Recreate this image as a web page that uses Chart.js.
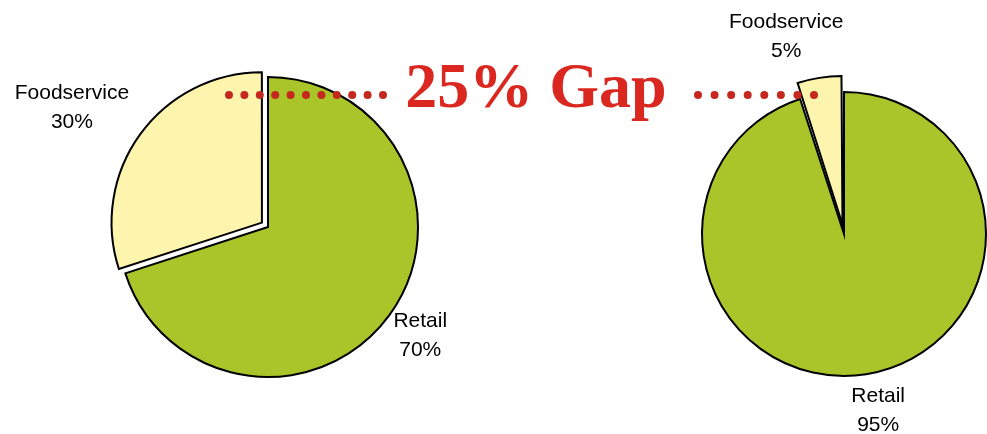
<!DOCTYPE html>
<html>
<head>
<meta charset="utf-8">
<script src="https://cdn.jsdelivr.net/npm/chart.js@4.4.0/dist/chart.umd.min.js"></script>
<style>
  body { margin: 0; background: #fff; overflow: hidden; }
  canvas { position: absolute; left: 0; top: 0; }
</style>
</head>
<body>
<canvas id="leftPie" width="987" height="434"></canvas>
<canvas id="rightPie" width="987" height="434"></canvas>
<script>
const categories = ['Retail', 'Foodservice']
const leftShares = [70, 30]
const rightShares = [95, 5]
const gapText = (leftShares[1] - rightShares[1]) + '% Gap'

const green = '#a9c52a'
const yellow = '#fdf4ae'
const red = '#da2820'
const dotRed = '#c4281f'

// draws "Retail / 70%" style labels out from each slice
const sliceLabels = {
  id: 'sliceLabels',
  afterDatasetsDraw(chart, args, opts) {
    const ctx = chart.ctx
    const arcs = chart.getDatasetMeta(0).data
    ctx.save()
    ctx.font = '21px "Liberation Sans", Arial, sans-serif'
    ctx.fillStyle = '#000'
    ctx.textAlign = 'center'
    ctx.textBaseline = 'middle'
    arcs.forEach((arc, i) => {
      let mid = (arc.startAngle + arc.endAngle) / 2 + opts.turn[i] * Math.PI / 180
      let x = arc.x + Math.cos(mid) * opts.dist[i]
      let y = arc.y + Math.sin(mid) * opts.dist[i]
      ctx.fillText(chart.data.labels[i], x, y - 14)
      ctx.fillText(chart.data.datasets[0].data[i] + '%', x, y + 15)
    })
    ctx.restore()
  }
}

// the red "gap" title and the dotted leaders
const gapNote = {
  id: 'gapNote',
  afterDraw(chart, args, opts) {
    const ctx = chart.ctx
    ctx.save()
    ctx.lineCap = 'round'
    ctx.lineWidth = 8
    ctx.strokeStyle = dotRed
    opts.dots.forEach(d => {
      ctx.setLineDash([0, d.step])
      ctx.beginPath()
      ctx.moveTo(d.from, d.y)
      ctx.lineTo(d.to + 0.5, d.y)
      ctx.stroke()
    })
    ctx.setLineDash([])
    ctx.font = 'bold 64px "Liberation Serif", "Times New Roman", serif'
    ctx.fillStyle = red
    ctx.textAlign = 'center'
    ctx.textBaseline = 'alphabetic'
    ctx.fillText(gapText, 536, 107)
    ctx.restore()
  }
}

function makePie(id, shares, radius, pull, padding, labelOpts, extra) {
  return new Chart(document.getElementById(id), {
    type: 'pie',
    data: {
      labels: categories,
      datasets: [{
        data: shares,
        backgroundColor: [green, yellow],
        borderColor: '#000',
        borderWidth: 2,
        borderJoinStyle: 'miter',
        offset: [0, pull],
        clip: false
      }]
    },
    options: {
      responsive: false,
      animation: false,
      radius: radius,
      layout: { padding: padding },
      events: [],
      plugins: {
        legend: { display: false },
        tooltip: { enabled: false },
        sliceLabels: labelOpts,
        gapNote: extra
      }
    },
    plugins: extra ? [sliceLabels, gapNote] : [sliceLabels]
  })
}

makePie('leftPie', leftShares, 150, 30,
  { left: 0, top: 20, right: 451, bottom: 0 },
  { dist: [187, 230], turn: [-0.5, -4.5] })

makePie('rightPie', rightShares, 142, 38,
  { left: 701, top: 34, right: 0, bottom: 0 },
  { dist: [179, 206], turn: [-2, -7.3] },
  { dots: [
    { from: 229, to: 383, y: 95, step: 15.4 },
    { from: 698, to: 814, y: 95, step: 16.57 }
  ] })
</script>
</body>
</html>
